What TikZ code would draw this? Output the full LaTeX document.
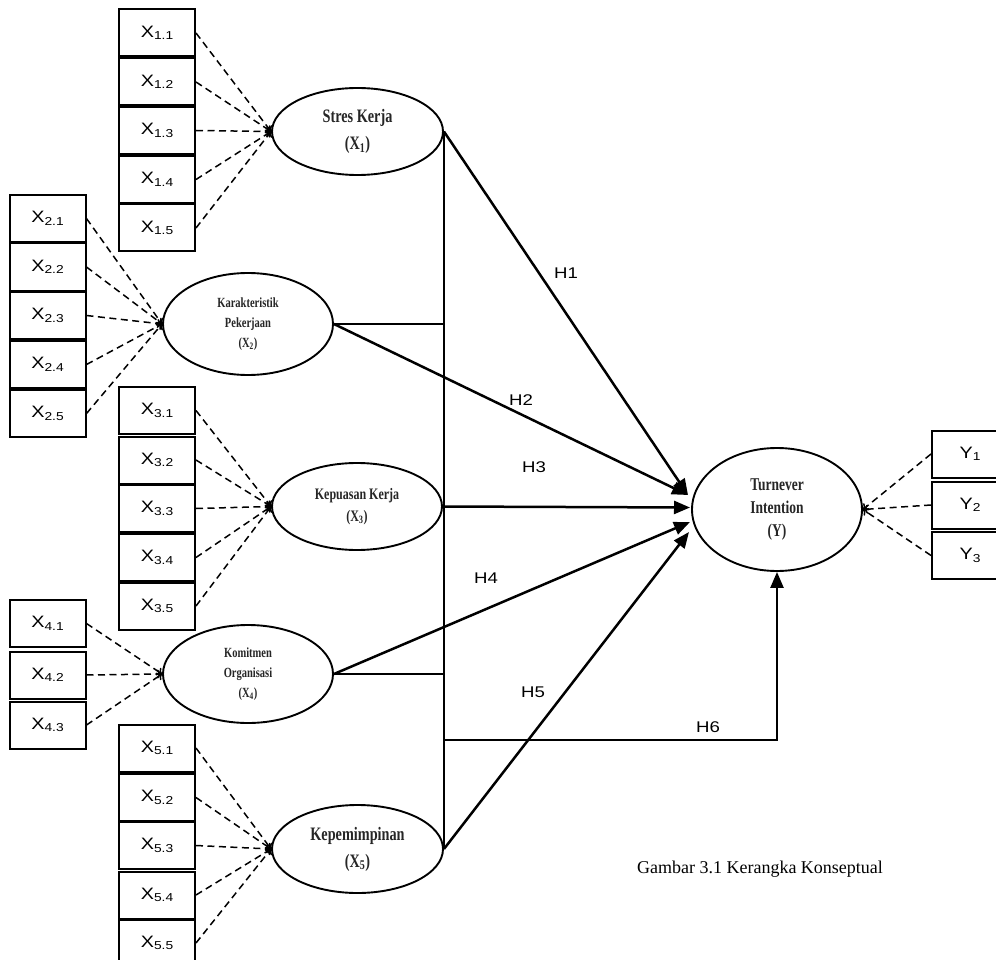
\documentclass[tikz,border=0pt]{standalone}
\usepackage{fontspec}
\setmainfont{Liberation Serif}
\newfontfamily\arialf[FakeStretch=1.2]{Liberation Sans}
\newfontfamily\condf[FakeStretch=0.75]{Liberation Serif}
\newcommand{\indsub}[1]{\raisebox{-2.5pt}{\fontsize{11.5}{12}\selectfont #1}}
\usetikzlibrary{arrows.meta,shapes.geometric,calc}
\begin{document}
\begin{tikzpicture}[x=1pt,y=-1pt,
  ind/.style={draw, line width=2pt, minimum width=76pt, minimum height=47pt, inner sep=0pt,
              font=\arialf\fontsize{16.5}{18}\selectfont},
  lat/.style={draw, ellipse, line width=1.9pt, inner sep=0pt, align=center, text=black!85},
  load/.style={dash pattern=on 7pt off 4.5pt, line width=1.5pt, -{To[length=5pt,width=9pt]}},
  bus/.style={line width=1.9pt},
  harrow/.style={line width=2.5pt, -{Triangle[length=16pt,width=13pt]}},
  hlab/.style={font=\arialf\fontsize{15.5}{17}\selectfont, inner sep=0pt}]
\useasboundingbox (0,0) rectangle (996,960);

% latent variables
\node[lat, minimum width=171pt, minimum height=87pt,
      font=\condf\bfseries\fontsize{19}{27}\selectfont] (S) at (357.5,131.5)
      {Stres Kerja\\(X\textsubscript{1})};
\node[lat, minimum width=170pt, minimum height=102pt,
      font=\condf\bfseries\fontsize{14}{20}\selectfont] (K) at (248,324)
      {Karakteristik\\Pekerjaan\\(X\textsubscript{2})};
\node[lat, minimum width=170pt, minimum height=87pt,
      font=\condf\bfseries\fontsize{16}{22}\selectfont] (P) at (357,506.5)
      {Kepuasan Kerja\\(X\textsubscript{3})};
\node[lat, minimum width=170pt, minimum height=98pt,
      font=\condf\bfseries\fontsize{14}{20}\selectfont] (O) at (248,674)
      {Komitmen\\Organisasi\\(X\textsubscript{4})};
\node[lat, minimum width=171pt, minimum height=88pt,
      font=\condf\bfseries\fontsize{19}{27}\selectfont] (L) at (357.5,849)
      {Kepemimpinan\\(X\textsubscript{5})};
\node[lat, minimum width=170pt, minimum height=123pt,
      font=\condf\bfseries\fontsize{18}{23}\selectfont] (T) at (777,509.5)
      {Turnever\\Intention\\(Y)};

% indicators
\foreach \i/\yy in {1/33,2/82,3/130.5,4/179.5,5/228}{
  \node[ind] (x1\i) at (157,\yy) {X\indsub{1.\i}};
  \draw[load] (x1\i.east) -- (S.west);
}
\foreach \i/\yy in {1/218.5,2/267,3/315.5,4/364.5,5/413.5}{
  \node[ind] (x2\i) at (47.5,\yy) {X\indsub{2.\i}};
  \draw[load] (x2\i.east) -- (K.west);
}
\foreach \i/\yy in {1/410.5,2/460,3/508.5,4/557.5,5/606}{
  \node[ind] (x3\i) at (157,\yy) {X\indsub{3.\i}};
  \draw[load] (x3\i.east) -- (P.west);
}
\foreach \i/\yy in {1/623.5,2/675,3/725}{
  \node[ind] (x4\i) at (47.5,\yy) {X\indsub{4.\i}};
  \draw[load] (x4\i.east) -- (O.west);
}
\foreach \i/\yy in {1/748,2/797.5,3/845.5,4/895,5/943}{
  \node[ind] (x5\i) at (157,\yy) {X\indsub{5.\i}};
  \draw[load] (x5\i.east) -- (L.west);
}
\foreach \i/\yy in {1/454,2/505,3/555.5}{
  \node[ind] (y\i) at (970,\yy) {Y\indsub{\i}};
  \draw[load] (y\i.west) -- (T.east);
}

% bus line
\draw[bus] (S.east) -- (L.east);
\draw[bus] (K.east) -- (K.east -| S.east);
\draw[bus] (O.east) -- (O.east -| S.east);
\coordinate (h6) at ($(S.east |- 0,740)$);

% arrow tips on Turnever
\coordinate (t1) at (688,495);
\coordinate (t3) at (690,507.5);
\coordinate (t4) at (690,522);
\coordinate (t5) at (689,532);

\draw[harrow] (S.east) -- (t1);
\draw[harrow] (K.east) -- (t1);
\draw[harrow] (P.east) -- (t3);
\draw[harrow] (O.east) -- (t4);
\draw[harrow] (L.east) -- (t5);
\draw[harrow] (h6) -| (T.south);

% labels
\node[hlab] (H1) at (566,273) {H1};
\node[hlab] (H2) at (521,400) {H2};
\node[hlab] (H3) at (534,467) {H3};
\node[hlab] (H4) at (486,578) {H4};
\node[hlab] (H5) at (533,692) {H5};
\node[hlab] (H6) at (708,727) {H6};

\node[font=\fontsize{18}{22}\selectfont, inner sep=0pt] (cap) at (760,869) {Gambar 3.1 Kerangka Konseptual};
\end{tikzpicture}
\end{document}
